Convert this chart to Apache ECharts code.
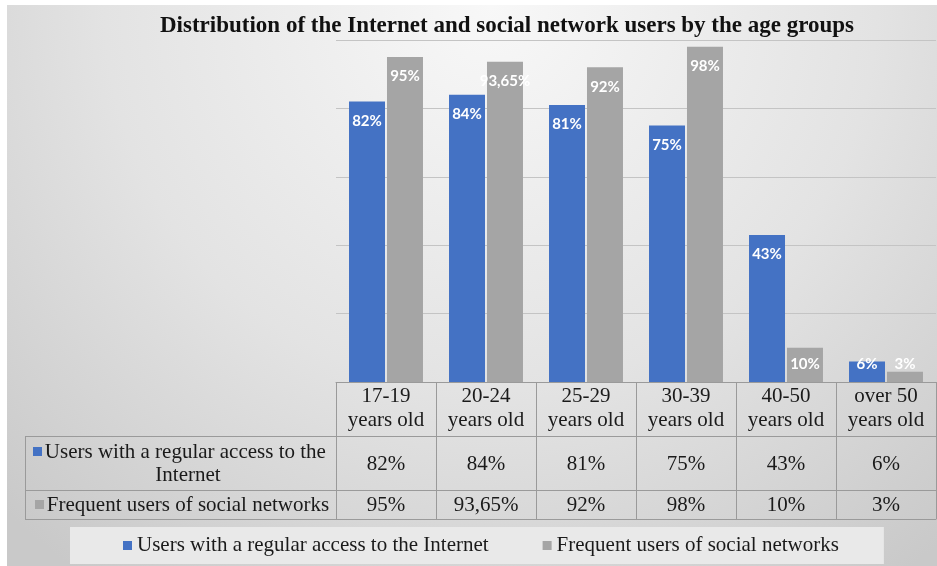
<!DOCTYPE html>
<html>
<head>
<meta charset="utf-8">
<script src="https://cdn.jsdelivr.net/npm/echarts@6/dist/echarts.min.js"></script>
<style>html,body{margin:0;padding:0;background:#fff}#c{width:937px;height:566px}</style>
</head>
<body>
<div id="c"></div>
<script>
const titleText = 'Distribution of the Internet and social network users by the age groups';
const categories = ['17-19\nyears old', '20-24\nyears old', '25-29\nyears old', '30-39\nyears old', '40-50\nyears old', 'over 50\nyears old'];
const seriesNames = ['Users with a regular access to the Internet', 'Frequent users of social networks'];
const internetUsers = [82, 84, 81, 75, 43, 6];
const socialUsers = [95, 93.65, 92, 98, 10, 3];

const BLUE = '#4472C4';
const GRAY = '#A5A5A5';
const BORDER = '#9a9a9a';
const SERIF = '"Liberation Serif", "Times New Roman", serif';
const TXT = '#1a1a1a';

const fmt = v => String(v).replace('.', ',') + '%';

const chart = echarts.init(document.getElementById('c'), null, {renderer: 'canvas'});

function barData(arr) {
  return arr.map(v => v < 15
    ? {value: v, label: {position: 'insideBottom', distance: 10}}
    : v);
}

const labelStyle = {
  show: true, position: 'insideTop', distance: 12, color: '#fff',
  fontFamily: 'Lato, "Open Sans", sans-serif', fontWeight: 'bold', fontSize: 15,
  formatter: p => fmt(p.value)
};

function tableAxis(data, offset, tickLen, margin, showLabel) {
  return {
    type: 'category', data: data, position: 'bottom', offset: offset, gridIndex: 0,
    axisLine: {show: true, lineStyle: {color: BORDER, width: 1}},
    axisTick: {show: tickLen > 0, length: tickLen, interval: 0, lineStyle: {color: BORDER, width: 1}},
    axisLabel: {show: showLabel, interval: 0, margin: margin, fontFamily: SERIF, fontSize: 21, lineHeight: 24, color: TXT},
    splitLine: {show: false}
  };
}

const bg = new echarts.graphic.RadialGradient(0.52, 0.0, 1.25, [
  {offset: 0, color: '#f8f8f8'},
  {offset: 0.55, color: '#e3e3e3'},
  {offset: 1, color: '#c9c9c9'}
]);

chart.setOption({
  backgroundColor: '#ffffff',
  animation: false,
  title: {
    text: titleText, left: 155, top: 10,
    textStyle: {fontFamily: SERIF, fontWeight: 'bold', fontSize: 23, color: '#111'}
  },
  grid: {left: 336, right: 1, top: 40, bottom: 184, containLabel: false},
  xAxis: [
    tableAxis(categories, 0, 54, 2, true),
    tableAxis(internetUsers.map(fmt), 54, 54, 16, true),
    tableAxis(socialUsers.map(fmt), 108, 29, 3, true),
    tableAxis(categories, 137, 0, 0, false)
  ],
  yAxis: {
    type: 'value', min: 0, max: 100, interval: 20,
    axisLine: {show: false}, axisTick: {show: false}, axisLabel: {show: false},
    splitLine: {show: true, lineStyle: {color: '#c4c4c4', width: 1}}
  },
  legend: {
    data: seriesNames, left: 70, top: 527, icon: 'rect', itemWidth: 9, itemHeight: 9, itemGap: 54,
    padding: [7, 45, 7, 53], backgroundColor: '#e9e9e9',
    textStyle: {fontFamily: SERIF, fontSize: 21, lineHeight: 23, color: TXT}
  },
  series: [
    {name: seriesNames[0], type: 'bar', xAxisIndex: 0, barWidth: 36, barGap: '5.5%',
     itemStyle: {color: BLUE}, label: labelStyle, data: barData(internetUsers)},
    {name: seriesNames[1], type: 'bar', xAxisIndex: 0, barWidth: 36, barGap: '5.5%',
     itemStyle: {color: GRAY}, label: labelStyle, data: barData(socialUsers)}
  ],
  graphic: [
    {type: 'rect', z: -100, silent: true, shape: {x: 7, y: 5, width: 930, height: 561}, style: {fill: bg}},
    {type: 'line', shape: {x1: 25, y1: 436.5, x2: 336, y2: 436.5}, style: {stroke: BORDER, lineWidth: 1}},
    {type: 'line', shape: {x1: 25, y1: 490.5, x2: 336, y2: 490.5}, style: {stroke: BORDER, lineWidth: 1}},
    {type: 'line', shape: {x1: 25, y1: 519.5, x2: 336, y2: 519.5}, style: {stroke: BORDER, lineWidth: 1}},
    {type: 'line', shape: {x1: 25.5, y1: 436, x2: 25.5, y2: 520}, style: {stroke: BORDER, lineWidth: 1}},
    {type: 'rect', shape: {x: 33, y: 447, width: 9, height: 9}, style: {fill: BLUE}},
    {type: 'text', x: 188, y: 464, style: {text: seriesNames[0], width: 296, overflow: 'break', align: 'center', verticalAlign: 'middle', lineHeight: 23, fontFamily: SERIF, fontSize: 21, fill: TXT}},
    {type: 'rect', shape: {x: 35, y: 500, width: 9, height: 9}, style: {fill: GRAY}},
    {type: 'text', x: 188, y: 505, style: {text: seriesNames[1], align: 'center', verticalAlign: 'middle', fontFamily: SERIF, fontSize: 21, fill: TXT}}
  ]
});
</script>
</body>
</html>
